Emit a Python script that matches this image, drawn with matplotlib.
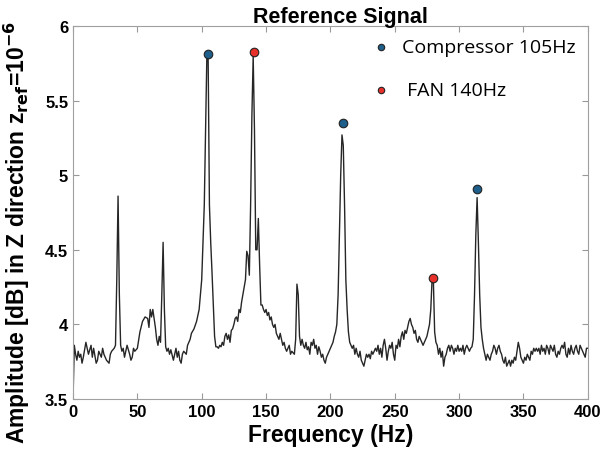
import matplotlib.pyplot as plt
import numpy as np

plt.rcParams['axes.unicode_minus'] = False

# spectrum (Hz, amplitude)
freq = [0, 1, 2, 3, 4, 5, 6, 7, 8, 10, 11, 12, 14, 15, 16, 18, 19, 20, 22, 23, 24, 26, 28, 29, 30, 32, 33,
        34, 35, 36, 37, 38, 39, 40, 41, 42, 44, 45, 46, 47, 48, 50, 52, 54, 56, 58, 59, 60, 61, 62, 63, 64, 65,
        66, 67, 68, 69, 70, 71, 72, 73, 74, 75, 76, 78, 79, 80, 81, 82, 83, 84, 85, 86, 88, 89, 90, 91, 92, 94,
        96, 98, 100, 102, 103, 104, 105, 106, 107, 108, 110, 111, 112, 113, 114, 115, 116, 117, 118, 119, 120,
        121, 122, 123, 124, 125, 126, 127, 128, 129, 130, 131, 132, 134, 135, 136, 137, 138, 139, 140, 141, 142,
        143, 144, 145, 146, 147, 148, 149, 150, 151, 152, 153, 154, 155, 156, 157, 158, 159, 160, 161, 162, 163,
        164, 165, 166, 167, 168, 169, 170, 172, 173, 174, 175, 176, 177, 178, 179, 180, 181, 182, 183, 184, 185,
        186, 187, 188, 189, 190, 191, 192, 193, 194, 195, 196, 197, 198, 199, 200, 201, 202, 203, 204, 205, 206,
        207, 208, 209, 210, 211, 212, 213, 214, 215, 216, 217, 218, 219, 220, 221, 222, 223, 224, 225, 226, 227,
        228, 229, 230, 231, 232, 233, 234, 235, 236, 237, 238, 239, 240, 241, 242, 243, 244, 245, 246, 247, 248,
        249, 250, 251, 252, 253, 254, 255, 256, 257, 258, 259, 260, 261, 262, 263, 264, 265, 266, 267, 268, 269,
        270, 271, 272, 273, 274, 275, 276, 277, 278, 279, 280, 281, 282, 283, 284, 285, 286, 287, 288, 289, 290,
        291, 292, 293, 294, 295, 296, 297, 298, 299, 300, 301, 302, 303, 304, 305, 306, 307, 308, 309, 310, 311,
        312, 313, 314, 315, 316, 317, 318, 319, 320, 321, 322, 323, 324, 325, 326, 327, 328, 329, 330, 331, 332,
        333, 334, 335, 336, 337, 338, 339, 340, 341, 342, 343, 344, 345, 346, 347, 348, 349, 350, 351, 352, 353,
        354, 355, 356, 357, 358, 359, 360, 361, 362, 363, 364, 365, 366, 367, 368, 369, 370, 371, 372, 373, 374,
        375, 376, 377, 378, 379, 380, 381, 382, 383, 384, 385, 386, 387, 388, 389, 390, 391, 392, 393, 394, 395,
        396, 397, 398, 399, 400]
amp = [3.5, 3.86, 3.8, 3.76, 3.82, 3.78, 3.8, 3.74, 3.78, 3.88, 3.84, 3.8, 3.86, 3.78, 3.84, 3.74, 3.76, 3.82,
       3.78, 3.84, 3.8, 3.76, 3.74, 3.8, 3.82, 3.84, 3.86,
       4.3, 4.86, 4.2, 3.86, 3.82, 3.84, 3.78, 3.82, 3.86, 3.8, 3.76, 3.78, 3.84, 3.82, 3.84, 3.95, 4.02, 4.05,
       4.04, 3.98, 4.1, 4.05, 4.1, 4.04, 3.98, 3.9,
       3.86, 3.92, 3.88, 4.2, 4.55, 4.1, 3.85, 3.82, 3.84, 3.8, 3.83, 3.76, 3.8, 3.84, 3.78, 3.82, 3.76, 3.74,
       3.8, 3.82, 3.8, 3.86, 3.88, 3.9, 3.94, 3.97,
       4.02, 4.1, 4.3, 4.8, 5.3, 5.8, 5.78, 4.8, 4.55, 4.35, 3.92, 3.85, 3.85, 3.84, 3.86, 3.85, 3.88, 3.86,
       3.92, 3.94, 3.9,
       3.93, 3.88, 3.96, 3.97, 4.0, 4.04, 4.05, 4.02, 4.1, 4.08, 4.15, 4.2, 4.3, 4.49, 4.46, 4.33, 4.8, 5.4,
       5.8, 5.3, 4.5,
       4.5, 4.71, 4.4, 4.13, 4.13, 4.1, 4.08, 4.1, 4.06, 4.08, 4.03, 4.05, 4.0, 3.98, 4.0, 3.94, 3.92, 3.9,
       3.94, 3.9, 3.86,
       3.88, 3.84, 3.82, 3.84, 3.86, 3.8, 3.82, 3.8, 3.9, 4.27, 4.2, 3.92, 3.86, 3.9, 3.86, 3.84, 3.88, 3.83,
       3.85, 3.8, 3.88,
       3.86, 3.9, 3.84, 3.86, 3.8, 3.85, 3.82, 3.78, 3.8, 3.76, 3.74, 3.78, 3.8, 3.82, 3.84, 3.86, 3.88, 3.92,
       3.95, 4.0, 4.2,
       4.6, 5.0, 5.27, 5.2, 4.8, 4.3, 4.1, 3.95, 3.88, 3.86, 3.84, 3.86, 3.8, 3.84, 3.8, 3.78, 3.82, 3.76,
       3.74, 3.72, 3.76,
       3.8, 3.78, 3.8, 3.77, 3.82, 3.8, 3.82, 3.84, 3.82, 3.86, 3.8, 3.84, 3.78, 3.86, 3.9, 3.84, 3.76, 3.82,
       3.86, 3.84, 3.88,
       3.8, 3.76, 3.86, 3.84, 3.9, 3.85, 3.92, 3.95, 3.9, 3.96, 3.94, 3.98, 4.02, 4.04, 4.0, 3.98, 3.94, 3.96,
       3.9, 3.88, 3.92,
       3.9, 3.88, 3.86, 3.88, 3.9, 3.92, 3.96, 4.0, 4.1, 4.3, 4.3, 3.95, 3.88, 3.86, 3.8, 3.84, 3.78, 3.82,
       3.72, 3.78, 3.8,
       3.84, 3.86, 3.82, 3.86, 3.84, 3.8, 3.84, 3.82, 3.86, 3.82, 3.84, 3.82, 3.86, 3.8, 3.84, 3.86, 3.84,
       3.82, 3.84, 3.85, 3.9,
       4.2, 4.6, 4.85, 4.55, 4.2, 3.98, 3.9, 3.84, 3.8, 3.76, 3.8, 3.78, 3.76, 3.8, 3.82, 3.86, 3.84, 3.8,
       3.84, 3.86, 3.82,
       3.8, 3.76, 3.74, 3.78, 3.72, 3.74, 3.76, 3.72, 3.76, 3.74, 3.78, 3.76, 3.82, 3.88, 3.84, 3.78, 3.76,
       3.74, 3.78, 3.76, 3.8,
       3.78, 3.76, 3.82, 3.8, 3.84, 3.82, 3.84, 3.82, 3.84, 3.8, 3.86, 3.82, 3.84, 3.8, 3.86, 3.84, 3.8, 3.86,
       3.84, 3.82, 3.86,
       3.8, 3.78, 3.82, 3.8, 3.84, 3.86, 3.84, 3.88, 3.8, 3.78, 3.84, 3.8, 3.86, 3.82, 3.8, 3.84, 3.86, 3.82,
       3.8, 3.86, 3.84,
       3.82, 3.8, 3.78, 3.84, 3.84]

# marked harmonics
comp_f = [105, 209.5, 314]
comp_a = [5.815, 5.35, 4.91]
fan_f = [140.5, 280]
fan_a = [5.825, 4.31]

fig = plt.figure(figsize=(6.01, 4.56), dpi=100)
ax = fig.add_axes([0.1215, 0.1228, 0.8565, 0.818])

ax.plot(freq, amp, color='#262626', linewidth=1)
ax.scatter(comp_f, comp_a, s=38, color='#1f5f8b', edgecolor='#222222', linewidth=0.8, zorder=3,
           label='Compressor 105Hz')
ax.scatter(fan_f, fan_a, s=38, color='#e8302a', edgecolor='#222222', linewidth=0.8, zorder=3,
           label=' FAN 140Hz')

ax.set_xlim(0, 400)
ax.set_ylim(3.5, 6)
ax.set_xticks(np.arange(0, 401, 50))
ax.set_yticks([3.5, 4, 4.5, 5, 5.5, 6])
ax.set_yticklabels(['3.5', '4', '4.5', '5', '5.5', '6'])
ax.tick_params(direction='in', top=True, right=True, length=4, color='#999999', labelsize=12)
for lab in ax.get_xticklabels() + ax.get_yticklabels():
    lab.set_fontweight('bold')
    lab.set_family('Liberation Sans')
for sp in ax.spines.values():
    sp.set_color('#a0a0a0')

ax.set_title('Reference Signal', fontsize=15.5, fontweight='bold', family='Liberation Sans', pad=3, x=0.52)
ax.set_xlabel('Frequency (Hz)', fontsize=16.5, fontweight='bold', family='Liberation Sans', labelpad=3)
ax.set_ylabel(r'Amplitude [dB] in Z direction z$_{\mathbf{ref}}$=10$^{\mathbf{-6}}$', fontsize=16.5,
              fontweight='bold', family='Liberation Sans')
ax.yaxis.set_label_coords(-0.079, 0.45)

ax.legend(loc='upper right', bbox_to_anchor=(1.0, 1.0), frameon=False,
          prop={'family': 'Open Sans', 'size': 14}, labelspacing=1.3, handletextpad=0.1,
          markerscale=0.75, borderaxespad=0.2)

fig.savefig('out.png', dpi=100)
